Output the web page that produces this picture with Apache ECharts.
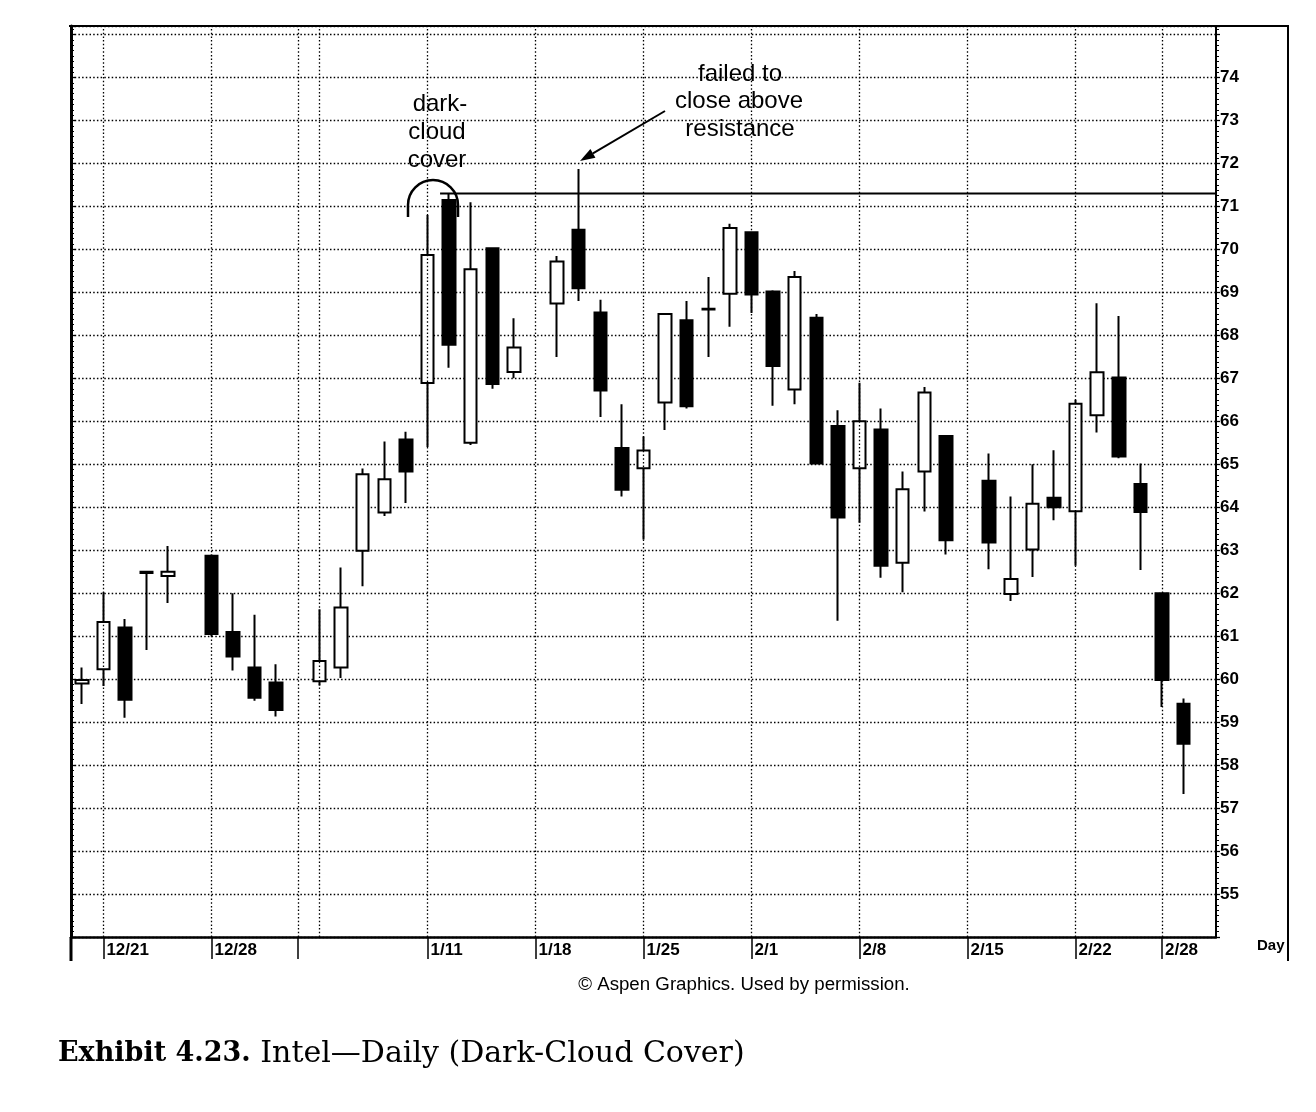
<!DOCTYPE html>
<html>
<head>
<meta charset="utf-8">
<script src="https://cdn.jsdelivr.net/npm/echarts@6/dist/echarts.min.js"></script>
<style>
html,body{margin:0;padding:0;background:#fff;}
#c{width:1316px;height:1112px;}
</style>
</head>
<body>
<div id="c"></div>
<script>
// ---- data ----
const days = ['12/18','12/21','12/22','12/23','12/24','12/25','12/28','12/29','12/30','12/31',
  '1/1','1/4','1/5','1/6','1/7','1/8','1/11','1/12','1/13','1/14','1/15',
  '1/18','1/19','1/20','1/21','1/22','1/25','1/26','1/27','1/28','1/29',
  '2/1','2/2','2/3','2/4','2/5','2/8','2/9','2/10','2/11','2/12',
  '2/15','2/16','2/17','2/18','2/19','2/22','2/23','2/24','2/25','2/26','3/1','3/2'];
const openP = [59.9,60.23,61.2,62.47,62.4,null,62.87,61.1,60.27,59.92,
  null,59.95,60.27,62.99,63.88,65.58,66.89,71.15,65.5,70.03,67.15,
  null,68.74,70.46,68.53,65.38,64.91,66.44,68.35,68.62,68.97,
  70.4,69.02,66.74,68.41,65.89,64.91,65.81,62.71,64.83,65.66,
  null,64.62,61.98,63.02,64.22,63.91,66.14,67.02,64.54,62.0,59.43,null];
const closeP = [59.98,61.33,59.52,62.5,62.5,null,61.05,60.53,59.57,59.28,
  null,60.42,61.67,64.77,64.65,64.83,69.87,67.78,69.54,66.87,67.72,
  null,69.72,69.1,66.72,64.41,65.32,68.5,66.35,68.6,70.5,
  68.95,67.29,69.36,65.02,63.76,66.0,62.64,64.42,66.67,63.23,
  null,63.18,62.33,64.08,64.0,66.41,67.14,65.18,63.89,59.98,58.5,null];
const lowP = [59.42,59.84,59.1,60.68,61.77,null,61.0,60.2,59.5,59.13,
  null,59.85,60.03,62.16,63.8,64.1,65.4,67.25,65.45,66.76,67.0,
  null,67.5,68.8,66.1,64.25,63.25,65.8,66.3,67.5,68.2,
  68.52,66.36,66.4,65.0,61.36,63.64,62.36,62.02,63.9,62.9,
  null,62.56,61.82,62.38,63.7,62.64,65.74,65.14,62.54,59.35,57.33,null];
const highP = [60.27,62.02,61.4,62.5,63.1,null,62.9,62.0,61.5,60.35,
  null,61.63,62.6,64.9,65.53,65.76,70.8,71.3,71.1,70.05,68.4,
  null,69.85,71.87,68.83,66.4,65.65,68.5,68.8,69.36,70.6,
  70.42,69.05,69.5,68.5,66.26,66.9,66.3,64.83,66.8,65.68,
  null,65.25,64.25,65.0,65.33,66.5,68.75,68.45,65.02,62.02,59.55,null];

const gridDays = ['12/21','12/28','1/1','1/4','1/11','1/18','1/25','2/1','2/8','2/15','2/22','2/26'];
const tickDays = ['12/21','12/28','1/1','1/11','1/18','1/25','2/1','2/8','2/15','2/22','2/26'];
const tickText = ['12/21','12/28','','1/11','1/18','1/25','2/1','2/8','2/15','2/22','2/28'];
const priceLabels = [55,56,57,58,59,60,61,62,63,64,65,66,67,68,69,70,71,72,73,74];
const resistance = 71.3;

// ---- chart ----
const NARROW = '"Liberation Sans Narrow","Arial Narrow","Liberation Sans",sans-serif';
const candleData = days.map((d, i) => openP[i] == null ? ['-','-','-','-'] : [openP[i], closeP[i], lowP[i], highP[i]]);
const dotted = {color:'#000', type:[1.5,2.2], width:1.3};

const chart = echarts.init(document.getElementById('c'), null, {renderer:'canvas'});
const option = {
  animation:false,
  backgroundColor:'#fff',
  grid:{left:71, right:100, top:26, bottom:175, containLabel:false},
  xAxis:{
    type:'category', data:days, boundaryGap:true,
    axisLine:{show:true, onZero:false, lineStyle:{color:'#000', width:2.5}},
    axisTick:{show:true, alignWithLabel:true, length:22, lineStyle:{color:'#000', width:1.5},
      interval:(i, v) => tickDays.includes(v)},
    axisLabel:{show:true, color:'#000', fontFamily:NARROW, fontWeight:'bold', fontSize:17,
      align:'left', margin:5, padding:[0,0,0,3],
      interval:(i, v) => tickDays.includes(v) && tickText[tickDays.indexOf(v)] !== '',
      formatter:(v) => { const k = tickDays.indexOf(v); return k >= 0 ? tickText[k] : ''; }},
    splitLine:{show:false}
  },
  yAxis:[{
    type:'value', position:'right', min:54, max:75.2, interval:1,
    axisLine:{show:true, onZero:false, lineStyle:{color:'#000', width:2}},
    axisTick:{show:true, inside:false, length:4, lineStyle:{color:'#000', width:1.3}},
    minorTick:{show:true, splitNumber:8, length:3, lineStyle:{color:'#000', width:1}},
    axisLabel:{show:true, color:'#000', fontFamily:NARROW, fontWeight:'bold', fontSize:17, margin:4,
      formatter:(v) => priceLabels.includes(Math.round(v*1000)/1000) ? String(Math.round(v)) : ''},
    splitLine:{show:true, lineStyle:dotted},
    minorSplitLine:{show:false}
  },{
    type:'value', position:'left', min:54, max:75.2, interval:1,
    axisLine:{show:true, onZero:false, lineStyle:{color:'#000', width:3}},
    axisTick:{show:true, inside:true, length:4, lineStyle:{color:'#000', width:1.3}},
    minorTick:{show:true, splitNumber:8, length:3, lineStyle:{color:'#000', width:1}},
    axisLabel:{show:false},
    splitLine:{show:false}
  }],
  series:[{
    type:'line', data:days.map(() => '-'), showSymbol:false, silent:true, z:1,
    lineStyle:{opacity:0},
    markLine:{silent:true, symbol:['none','none'], label:{show:false}, animation:false,
      lineStyle:dotted, emphasis:{disabled:true},
      data:gridDays.map(d => ({xAxis:d}))}
  },{
    type:'candlestick', data:candleData, barWidth:13, z:3, silent:true,
    itemStyle:{color:'#fff', color0:'#000', borderColor:'#000', borderColor0:'#000', borderColorDoji:'#000', borderWidth:2}
  }]
};
chart.setOption(option);

// ---- annotations ----
const rTop = chart.convertToPixel({seriesIndex:1}, [17, resistance]);
const rightEdge = 1316 - 100;
const tip = [580, 161], tail = [665, 111];
const dx = tip[0]-tail[0], dy = tip[1]-tail[1], L = Math.hypot(dx, dy);
const ux = dx/L, uy = dy/L, nx = -uy, ny = ux;
const bx = tip[0]-ux*15, by = tip[1]-uy*15;
const annFont = '24px "Liberation Sans", Arial, sans-serif';
function txt(t, x, y, font, align) {
  return {type:'text', silent:true, z:100, style:{text:t, x:x, y:y, font:font, fill:'#000',
    textAlign:align || 'center', textVerticalAlign:'middle'}};
}
chart.setOption({graphic:[
  // frame
  {type:'line', silent:true, z:100, shape:{x1:69, y1:26, x2:1289, y2:26}, style:{stroke:'#000', lineWidth:2}},
  {type:'line', silent:true, z:100, shape:{x1:1288, y1:26, x2:1288, y2:961}, style:{stroke:'#000', lineWidth:2}},
  {type:'line', silent:true, z:100, shape:{x1:71, y1:937, x2:71, y2:961}, style:{stroke:'#000', lineWidth:3}},
  txt('Day', 1257, 946, 'bold 15px ' + NARROW, 'left'),
  // resistance line
  {type:'line', silent:true, z:100, shape:{x1:rTop[0]-9, y1:rTop[1], x2:rightEdge, y2:rTop[1]}, style:{stroke:'#000', lineWidth:2}},
  // dark cloud arc
  {type:'arc', silent:true, z:100, shape:{cx:433, cy:205, r:25, startAngle:Math.PI, endAngle:2*Math.PI, clockwise:true}, style:{stroke:'#000', lineWidth:2.5, fill:null}},
  {type:'line', silent:true, z:100, shape:{x1:408, y1:205, x2:408, y2:217}, style:{stroke:'#000', lineWidth:2.5}},
  {type:'line', silent:true, z:100, shape:{x1:458, y1:205, x2:458, y2:217}, style:{stroke:'#000', lineWidth:2.5}},
  txt('dark-', 440, 104, annFont),
  txt('cloud', 437, 132, annFont),
  txt('cover', 437, 160, annFont),
  // arrow
  {type:'line', silent:true, z:100, shape:{x1:tail[0], y1:tail[1], x2:bx, y2:by}, style:{stroke:'#000', lineWidth:2}},
  {type:'polygon', silent:true, z:100, shape:{points:[[tip[0],tip[1]],[bx+nx*5,by+ny*5],[bx-nx*5,by-ny*5]]}, style:{fill:'#000'}},
  txt('failed to', 740, 74, annFont),
  txt('close above', 739, 101, annFont),
  txt('resistance', 740, 129, annFont),
  // credit and caption
  txt('\u00A9 Aspen Graphics. Used by permission.', 744, 985, '18.7px "Liberation Sans", Arial, sans-serif'),
  {type:'text', silent:true, z:100, style:{
    text:'{b|Exhibit 4.23.} Intel\u2014Daily (Dark-Cloud Cover)', x:58, y:1054,
    textAlign:'left', textVerticalAlign:'middle', fill:'#000',
    font:'30px "DejaVu Serif", serif',
    rich:{b:{fontWeight:'bold', fontFamily:'"DejaVu Serif", serif', fontSize:27}}}}
]});
</script>
</body>
</html>
